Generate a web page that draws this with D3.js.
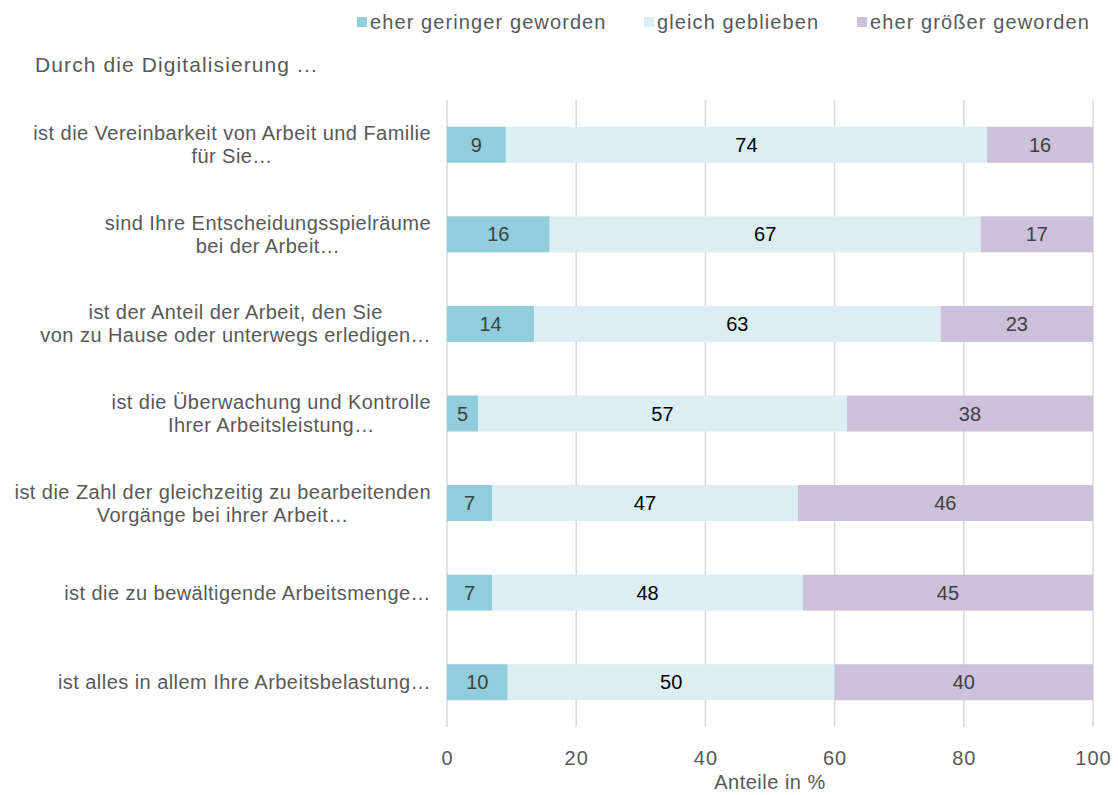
<!DOCTYPE html>
<html>
<head>
<meta charset="utf-8">
<script src="https://cdn.jsdelivr.net/npm/d3@7"></script>
<style>
  body { margin: 0; background: #fff; }
  text { font-family: "Liberation Sans", Arial, sans-serif; }
</style>
</head>
<body>
<div id="my_dataviz"></div>
<script>
// categories (each label split into its lines)
var categories = [
    ["ist die Vereinbarkeit von Arbeit und Familie", "für Sie…"],
    ["sind Ihre Entscheidungsspielräume", "bei der Arbeit…"],
    ["ist der Anteil der Arbeit, den Sie", "von zu Hause oder unterwegs erledigen…"],
    ["ist die Überwachung und Kontrolle", "Ihrer Arbeitsleistung…"],
    ["ist die Zahl der gleichzeitig zu bearbeitenden", "Vorgänge bei ihrer Arbeit…"],
    ["ist die zu bewältigende Arbeitsmenge…"],
    ["ist alles in allem Ihre Arbeitsbelastung…"]
];
var seriesNames = ["eher geringer geworden", "gleich geblieben", "eher größer geworden"];

// shares in % (bar lengths) and the printed, rounded labels
var geringer = [9.1, 15.9, 13.5, 4.8, 7.0, 7.0, 9.4];
var gleich   = [74.5, 66.7, 62.9, 57.1, 47.3, 48.1, 50.6];
var groesser = [16.4, 17.4, 23.6, 38.1, 45.7, 44.9, 40.0];
var geringerLabels = [9, 16, 14, 5, 7, 7, 10];
var gleichLabels   = [74, 67, 63, 57, 47, 48, 50];
var groesserLabels = [16, 17, 23, 38, 46, 45, 40];

var xTicks = [0, 20, 40, 60, 80, 100];
var titleText = "Durch die Digitalisierung ...";
var xTitle = "Anteile in %";

function visualize() {
    var W = 1118, H = 795;
    var colors = ["#92cddc", "#dbeef4", "#ccc1da"];
    var labelColors = ["#404040", "#000000", "#404040"];

    var svg = d3.select("#my_dataviz")
        .append("svg")
        .attr("width", W)
        .attr("height", H);

    // build rows for the stack
    var rows = categories.map(function(c, i) {
        return {
            idx: i,
            "eher geringer geworden": geringer[i],
            "gleich geblieben": gleich[i],
            "eher größer geworden": groesser[i]
        };
    });
    var labels = [geringerLabels, gleichLabels, groesserLabels];

    var stacked = d3.stack().keys(seriesNames)(rows);

    var x = d3.scaleLinear().domain([0, 100]).range([447, 1093]);
    var y = d3.scaleBand().domain(d3.range(categories.length)).range([100, 727]);
    var barH = 36;

    // vertical gridlines
    svg.append("g")
        .selectAll("line")
        .data(xTicks)
        .enter()
        .append("line")
        .attr("x1", function(d) { return x(d); })
        .attr("x2", function(d) { return x(d); })
        .attr("y1", 100)
        .attr("y2", 727)
        .attr("stroke", "#d9d9d9")
        .attr("stroke-width", 1.5);

    // x axis tick labels
    var xAxis = svg.append("g")
        .attr("transform", "translate(0,751)")
        .call(d3.axisBottom(x).tickValues(xTicks).tickSize(0).tickPadding(0));
    xAxis.select(".domain").remove();
    xAxis.selectAll("text")
        .attr("dy", "0.71em")
        .style("font-size", "20px")
        .style("letter-spacing", "1px")
        .style("font-family", "'Liberation Sans', Arial, sans-serif")
        .style("fill", "#595959");

    svg.append("text")
        .attr("x", x(50))
        .attr("y", 789)
        .attr("text-anchor", "middle")
        .style("font-size", "20px")
        .style("letter-spacing", "0.5px")
        .style("fill", "#595959")
        .text(xTitle);

    // bars
    var layer = svg.selectAll("g.layer")
        .data(stacked)
        .enter()
        .append("g")
        .attr("class", "layer")
        .attr("fill", function(d, i) { return colors[i]; });

    layer.selectAll("rect")
        .data(function(d) { return d; })
        .enter()
        .append("rect")
        .attr("x", function(d) { return x(d[0]); })
        .attr("width", function(d) { return x(d[1]) - x(d[0]); })
        .attr("y", function(d) { return y(d.data.idx) + y.bandwidth() / 2 - barH / 2; })
        .attr("height", barH);

    // value labels inside the segments
    stacked.forEach(function(s, k) {
        svg.append("g")
            .selectAll("text")
            .data(s)
            .enter()
            .append("text")
            .attr("x", function(d) { return (x(d[0]) + x(d[1])) / 2; })
            .attr("y", function(d) { return y(d.data.idx) + y.bandwidth() / 2; })
            .attr("dy", "0.35em")
            .attr("text-anchor", "middle")
            .style("font-size", "20px")
            .style("fill", labelColors[k])
            .text(function(d) { return labels[k][d.data.idx]; });
    });

    // category labels: block right-aligned at x=430, lines centred in the block
    var lineH = 23;
    categories.forEach(function(lines, i) {
        var g = svg.append("g");
        var cy = y(i) + y.bandwidth() / 2;
        var texts = lines.map(function(l, j) {
            return g.append("text")
                .attr("y", cy + (j - (lines.length - 1) / 2) * lineH)
                .attr("dy", "0.35em")
                .attr("text-anchor", "middle")
                .style("font-size", "20px")
                .style("letter-spacing", "0.45px")
                .style("fill", "#595959")
                .text(l);
        });
        var maxW = d3.max(texts, function(t) { return t.node().getComputedTextLength(); });
        texts.forEach(function(t) { t.attr("x", 431 - maxW / 2); });
    });

    // title
    svg.append("text")
        .attr("x", 35)
        .attr("y", 65)
        .attr("dy", "0.35em")
        .style("font-size", "21px")
        .style("letter-spacing", "1.1px")
        .style("fill", "#595959")
        .text(titleText);

    // legend
    var legendX = [357, 644, 857];
    var legend = svg.selectAll("g.legend")
        .data(seriesNames)
        .enter()
        .append("g")
        .attr("class", "legend")
        .attr("transform", function(d, i) { return "translate(" + legendX[i] + ",22)"; });
    legend.append("rect")
        .attr("x", 0)
        .attr("y", -5)
        .attr("width", 10)
        .attr("height", 10)
        .attr("fill", function(d, i) { return colors[i]; });
    legend.append("text")
        .attr("x", 13)
        .attr("dy", "0.35em")
        .style("font-size", "20px")
        .style("letter-spacing", "1.1px")
        .style("fill", "#595959")
        .text(function(d) { return d; });
}

visualize();
</script>
</body>
</html>
